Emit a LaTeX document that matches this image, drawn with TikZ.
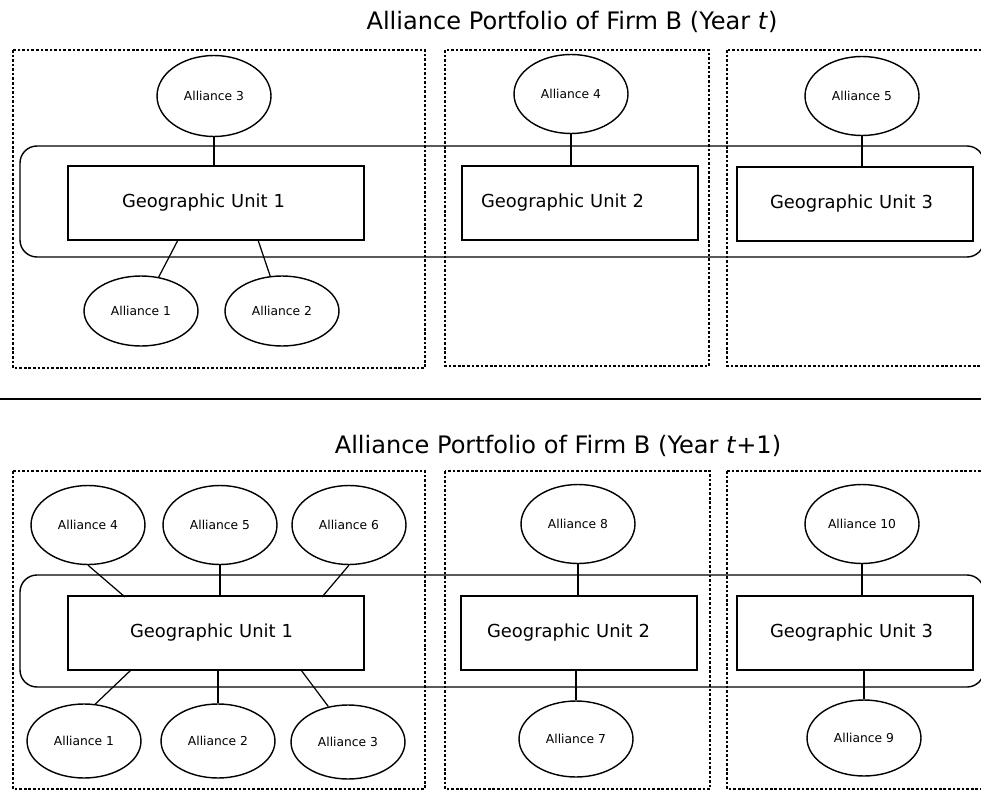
\documentclass[tikz,border=0pt]{standalone}
\usepackage{fontspec}
\setmainfont{DejaVu Sans}
\usetikzlibrary{shapes.geometric}

\tikzset{
  alliance/.style={draw, ellipse, line width=0.8pt, inner sep=0pt,
    minimum width=2.28cm, minimum height=1.58cm, font=\fontsize{7}{8}\selectfont},
  unitbox/.style={draw, rectangle, line width=0.8pt, inner sep=0pt, align=left,
    minimum width=4.72cm, minimum height=1.48cm, font=\fontsize{10.2}{12}\selectfont},
  region/.style={line width=1.5pt, dash pattern=on 1.5pt off 1.1pt},
  band/.style={line width=0.8pt, rounded corners=0.34cm},
  link/.style={line width=0.7pt},
  heading/.style={font=\fontsize{13.7}{16}\selectfont}
}

\begin{document}
\begin{tikzpicture}[x=0.02cm, y=-0.02cm]
  \useasboundingbox (0,0) rectangle (981,791);

  % year t
  \node[heading] (title1) at (572,22) {Alliance Portfolio of Firm B (Year \textit{t})};
  \draw[region] (13,50) rectangle (425,368);
  \draw[region] (445,50) rectangle (709,366);
  \draw[region] (727,50) rectangle (995,366);
  \draw[band] (20,146) rectangle (984,257);

  \node[unitbox, minimum width=5.92cm, text width=3.76cm] (gu1) at (216,203) {Geographic Unit 1};
  \node[unitbox, text width=3.96cm] (gu2) at (580,203) {Geographic Unit 2};
  \node[unitbox, text width=3.4cm] (gu3) at (855,204) {Geographic Unit 3};

  \node[alliance, minimum height=1.62cm] (a3) at (214,96) {Alliance 3};
  \node[alliance] (a4) at (571,94) {Alliance 4};
  \node[alliance] (a5) at (862,96) {Alliance 5};
  \node[alliance, minimum height=1.4cm] (a1) at (141,311) {Alliance 1};
  \node[alliance, minimum height=1.4cm] (a2) at (282,311) {Alliance 2};

  \coordinate (gu1a1) at (178,240);
  \coordinate (gu1a2) at (258,240);
  \draw[link] (a3.south) -- (a3.south |- gu1.north);
  \draw[link] (a4.south) -- (a4.south |- gu2.north);
  \draw[link] (a5.south) -- (a5.south |- gu3.north);
  \draw[link] (a1) -- (gu1a1);
  \draw[link] (a2) -- (gu1a2);

  \draw[line width=1pt] (0,399) -- (981,399);

  % year t+1
  \node[heading] (title2) at (558,446) {Alliance Portfolio of Firm B (Year \textit{t}+1)};
  \draw[region] (13,471) rectangle (425,789);
  \draw[region] (445,471) rectangle (710,789);
  \draw[region] (727,471) rectangle (995,789);
  \draw[band] (20,575) rectangle (984,687);

  \node[unitbox, minimum width=5.92cm, text width=3.44cm] (hu1) at (216,633) {Geographic Unit 1};
  \node[unitbox, text width=3.68cm] (hu2) at (579,633) {Geographic Unit 2};
  \node[unitbox, text width=3.4cm] (hu3) at (855,633) {Geographic Unit 3};

  \node[alliance] (b4) at (88,525) {Alliance 4};
  \node[alliance] (b5) at (220,525) {Alliance 5};
  \node[alliance] (b6) at (349,525) {Alliance 6};
  \node[alliance] (b8) at (578,524) {Alliance 8};
  \node[alliance] (b10) at (862,524) {Alliance 10};
  \node[alliance, minimum height=1.48cm] (b1) at (84,741) {Alliance 1};
  \node[alliance, minimum height=1.48cm] (b2) at (218,741) {Alliance 2};
  \node[alliance, minimum height=1.48cm] (b3) at (348,742) {Alliance 3};
  \node[alliance, minimum height=1.52cm] (b7) at (576,739) {Alliance 7};
  \node[alliance, minimum height=1.52cm] (b9) at (864,738) {Alliance 9};

  \coordinate (hu1b4) at (125,597);
  \coordinate (hu1b6) at (322,597);
  \coordinate (hu1b1) at (131,670);
  \coordinate (hu1b3) at (301,670);
  \draw[link] (b4.south) -- (hu1b4);
  \draw[link] (b5.south) -- (b5.south |- hu1.north);
  \draw[link] (b6.south) -- (hu1b6);
  \draw[link] (b8.south) -- (b8.south |- hu2.north);
  \draw[link] (b10.south) -- (b10.south |- hu3.north);
  \draw[link] (b1.73) -- (hu1b1);
  \draw[link] (b2.north) -- (b2.north |- hu1.south);
  \draw[link] (b3.119) -- (hu1b3);
  \draw[link] (b7.north) -- (b7.north |- hu2.south);
  \draw[link] (b9.north) -- (b9.north |- hu3.south);
\end{tikzpicture}
\end{document}
